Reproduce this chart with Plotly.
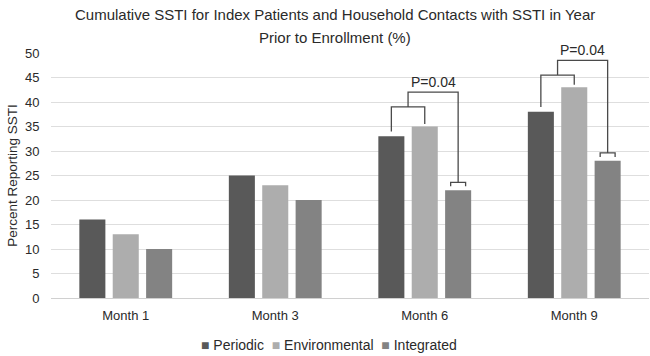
import plotly.graph_objects as go

categories = ["Month 1", "Month 3", "Month 6", "Month 9"]
periodic = [16, 25, 33, 38]
environmental = [13, 23, 35, 43]
integrated = [10, 20, 22, 28]
y_ticks = [0, 5, 10, 15, 20, 25, 30, 35, 40, 45, 50]
series_names = ["Periodic", "Environmental", "Integrated"]
title_lines = ["Cumulative SSTI for Index Patients and Household Contacts with SSTI in Year",
               "Prior to Enrollment (%)"]

# significance brackets: category index, lower bracket level, upper bracket level, label
sig_cats = [2, 3]
sig_level1 = [39, 45.5]
sig_level2 = [42, 48.5]
sig_labels = ["P=0.04", "P=0.04"]

colors = {"Periodic": "#595959", "Environmental": "#adadad", "Integrated": "#838383"}
FONT = "Liberation Sans, Arial, sans-serif"
TXT = "#2a2a2a"

fig = go.Figure()
for name, vals in zip(series_names, [periodic, environmental, integrated]):
    fig.add_trace(go.Bar(x=categories, y=vals, name=name, marker_color=colors[name],
                         marker_line_width=0, showlegend=False))

bargap = 0.33
slot = (1 - bargap) / 3
line_style = dict(color="#4a4a4a", width=1.3)
for ci, l1, l2, lab in zip(sig_cats, sig_level1, sig_level2, sig_labels):
    xp = ci - slot
    xe = ci
    xi = ci + slot
    xm = (xp + xe) / 2
    fig.add_shape(type="path", xref="x", yref="y",
                  path=f"M {xp} {periodic[ci] + 1} L {xp} {l1} L {xe} {l1} L {xe} {environmental[ci] + 0.5}",
                  line=line_style)
    ib = integrated[ci] + 1.6
    fig.add_shape(type="path", xref="x", yref="y",
                  path=f"M {xi - 0.05} {ib - 0.8} L {xi - 0.05} {ib} L {xi + 0.05} {ib} L {xi + 0.05} {ib - 0.8}",
                  line=line_style)
    fig.add_shape(type="path", xref="x", yref="y",
                  path=f"M {xm} {l1} L {xm} {l2} L {xi} {l2} L {xi} {ib}",
                  line=line_style)
    fig.add_annotation(x=(xm + xi) / 2, y=l2, xref="x", yref="y", text=lab,
                       showarrow=False, yanchor="bottom", yshift=0,
                       font=dict(family=FONT, size=14, color=TXT))

# title (two lines with the reference's wider line spacing)
for line, ypos in zip(title_lines, [1.159, 1.065]):
    fig.add_annotation(xref="paper", yref="paper", x=0.475, y=ypos, xanchor="center", yanchor="middle",
                       showarrow=False, text=line,
                       font=dict(family=FONT, size=15, color=TXT))

# legend (compact, as in the reference)
legend_text = "&nbsp;&nbsp;".join(
    f"<span style='color:{colors[n]}'>■</span> {n}" for n in series_names)
fig.add_annotation(xref="paper", yref="paper", x=0.465, y=-0.192, xanchor="center", yanchor="middle",
                   showarrow=False, text=legend_text,
                   font=dict(family=FONT, size=14, color=TXT))

fig.update_layout(
    width=650, height=356,
    margin=dict(l=51, r=1, t=53, b=58),
    paper_bgcolor="white", plot_bgcolor="white",
    barmode="group", bargap=bargap, bargroupgap=0.22,
    font=dict(family=FONT, size=13, color=TXT),
    showlegend=False,
)
fig.update_xaxes(showgrid=False, showline=True, linecolor="#d0d0d0", linewidth=1,
                 ticks="outside", ticklen=5, tickcolor="rgba(0,0,0,0)",
                 tickfont=dict(family=FONT, size=13, color=TXT))
fig.update_yaxes(range=[0, 50], tickvals=y_ticks, showgrid=True, gridcolor="#dedede", gridwidth=1,
                 zeroline=False, showline=False, ticks="outside", ticklen=8, tickcolor="rgba(0,0,0,0)",
                 tickfont=dict(family=FONT, size=13, color=TXT),
                 title=dict(text="Percent Reporting SSTI", standoff=4,
                            font=dict(family=FONT, size=13.5, color=TXT)))

fig.write_html("out.html")
